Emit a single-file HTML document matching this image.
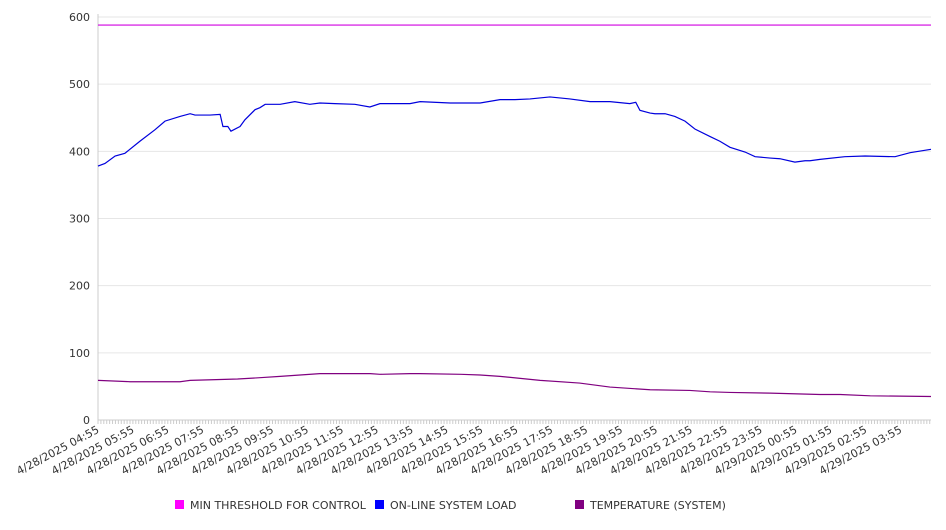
<!DOCTYPE html>
<html><head><meta charset="utf-8"><style>
body{margin:0;background:#fff;font-family:"DejaVu Sans","Liberation Sans",sans-serif;}
svg text{font-family:"DejaVu Sans","Liberation Sans",sans-serif;fill:#333;}
</style></head><body>
<svg id="chart" width="946" height="526" xmlns="http://www.w3.org/2000/svg"></svg>
<script>
// hours from 4/28/2025 04:55
const loadHours=[0,0.2,0.49,0.77,1.2,1.63,1.92,2.35,2.64,2.78,3.21,3.5,3.58,3.72,3.81,4.07,4.21,4.5,4.64,4.79,5.22,5.64,6.07,6.36,6.79,7.36,7.79,8.08,8.94,9.23,10.09,10.95,11.52,11.95,12.38,12.95,13.52,14.1,14.67,15.24,15.41,15.53,15.82,15.96,16.25,16.53,16.82,17.11,17.54,17.82,18.11,18.54,18.83,19.26,19.54,19.97,20.26,20.4,20.69,21.4,21.98,22.84,23.27,23.87];
const loadValues=[378,382,393,397,415,432,445,452,456,454,454,455,437,437,430,437,447,462,465,470,470,474,470,472,471,470,466,471,471,474,472,472,477,477,478,481,478,474,474,471,473,461,457,456,456,452,445,433,422,415,406,399,392,390,389,384,386,386,388,392,393,392,398,403];
const tempHours=[0,0.92,2.35,2.64,4.0,4.64,5.22,5.79,6.36,7.8,8.08,8.94,9.23,10.4,10.95,11.52,12.1,12.67,13.8,14.67,15.82,16.96,17.54,18.11,19.26,20.69,21.27,22.13,23.87];
const tempValues=[59,57,57,59,61,63,65,67,69,69,68,69,69,68,67,65,62,59,55,49,45,44,42,41,40,38,38,36,35];
const thresholdValue=588;
const yTicks=[0,100,200,300,400,500,600];
const xTickLabels=["4/28/2025 04:55","4/28/2025 05:55","4/28/2025 06:55","4/28/2025 07:55","4/28/2025 08:55","4/28/2025 09:55","4/28/2025 10:55","4/28/2025 11:55","4/28/2025 12:55","4/28/2025 13:55","4/28/2025 14:55","4/28/2025 15:55","4/28/2025 16:55","4/28/2025 17:55","4/28/2025 18:55","4/28/2025 19:55","4/28/2025 20:55","4/28/2025 21:55","4/28/2025 22:55","4/28/2025 23:55","4/29/2025 00:55","4/29/2025 01:55","4/29/2025 02:55","4/29/2025 03:55"];
const legendLabels=["MIN THRESHOLD FOR CONTROL","ON-LINE SYSTEM LOAD","TEMPERATURE (SYSTEM)"];

const NS="http://www.w3.org/2000/svg",svg=document.getElementById('chart');
const X0=98,X1=931,Y0=420,Y1=17,HMAX=23.87;
const xs=h=>X0+h*(X1-X0)/HMAX, ys=v=>Y0-v*(Y0-Y1)/600;
function mk(t,a){const e=document.createElementNS(NS,t);for(const k in a)e.setAttribute(k,a[k]);svg.appendChild(e);return e;}
yTicks.forEach(v=>{
 if(v>0){const g=mk('line',{x1:X0,x2:X1,y1:ys(v),y2:ys(v),stroke:'#e6e6e6'});
 
 }
 const t=mk('text',{x:90,y:ys(v)+4,'text-anchor':'end','font-size':11});
 
 
 t.textContent=v;
});
const ax=mk('line',{x1:X0,x2:X0,y1:Y1-3,y2:Y0,stroke:'#ccc'});


const bx=mk('line',{x1:X0,x2:X1,y1:Y0,y2:Y0,stroke:'#ccc'});


for(let m=0;m<=HMAX*60;m+=5){const l=mk('line',{x1:xs(m/60),x2:xs(m/60),y1:Y0,y2:Y0+4,stroke:'#ccc'});
 
 }
xTickLabels.forEach((s,i)=>{const x=xs(i);
 const t=mk('text',{x:x+2,y:Y0+12,'text-anchor':'end','font-size':11,transform:`rotate(-28 ${x+2} ${Y0+12})`});
 
 
 t.textContent=s;});
function line(h,v,c,name){const p=mk('polyline',{points:h.map((hh,i)=>xs(hh)+','+ys(v[i])).join(' '),fill:'none',stroke:c,'stroke-width':1.2});
 
 }
line([0,HMAX],[thresholdValue,thresholdValue],'#d000e0','threshold-line');
line(loadHours,loadValues,'#0000dd','load-line');
line(tempHours,tempValues,'#800080','temperature-line');
const lc=['#ff00ff','#0000ff','#800080'],lx=[175,375,575];
legendLabels.forEach((s,i)=>{
 const r=mk('rect',{x:lx[i],y:500,width:9,height:9,fill:lc[i]});
 
 
 const t=mk('text',{x:lx[i]+15,y:509,'font-size':11});
 
 
 t.textContent=s;});
</script>
</body></html>
